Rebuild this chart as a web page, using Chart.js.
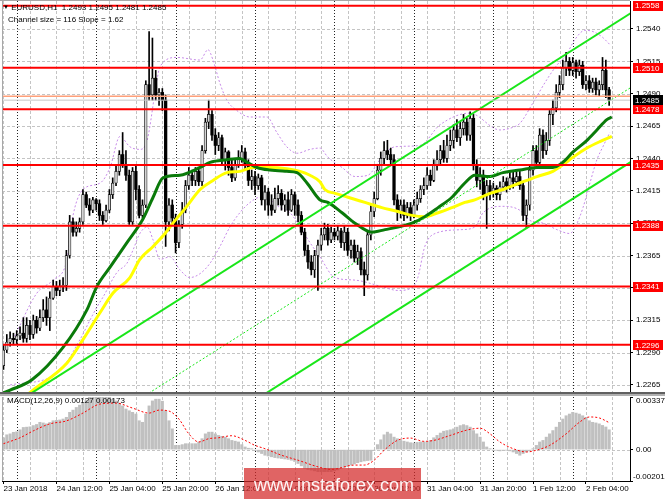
<!DOCTYPE html>
<html>
<head>
<meta charset="utf-8">
<script src="https://cdn.jsdelivr.net/npm/chart.js@4.4.1/dist/chart.umd.min.js"></script>
<style>
html, body { margin:0; padding:0; background:#fff; }
#wrap { position:relative; width:665px; height:499px; overflow:hidden; background:#fff; font-family:"Liberation Sans", Arial, sans-serif; }
#c1 { position:absolute; left:0; top:0; }
#c2 { position:absolute; left:0; top:394px; }
.t { position:absolute; font-size:8px; line-height:10px; color:#000; white-space:nowrap; }
#wm { position:absolute; left:244px; top:468px; width:177px; height:31px; background:rgba(212,40,40,0.72); color:rgba(255,255,255,0.95); font-size:18px; line-height:34px; padding-left:10px; box-sizing:border-box; white-space:nowrap; }
</style>
</head>
<body>
<div id="wrap">
<canvas id="c1" width="665" height="394"></canvas>
<canvas id="c2" width="665" height="105"></canvas>
<div class="t" style="left:3px;top:2px;"><span style="font-size:6px;vertical-align:1px">&#9660;</span> EURUSD,H1&nbsp; 1.2493 1.2495 1.2481 1.2485</div>
<div class="t" style="left:8px;top:15px;">Channel size = 116 Slope = 1.62</div>
<div class="t" style="left:7px;top:396px;">MACD(12,26,9) 0.00127 0.00173</div>
<div id="wm">www.instaforex.com</div>
</div>
<script>
// ---------- DATA ----------
const timeLabels = ['23 Jan 2018','24 Jan 12:00','25 Jan 04:00','25 Jan 20:00','26 Jan 12:00','29 Jan 04:00','29 Jan 20:00','30 Jan 12:00','31 Jan 04:00','31 Jan 20:00','1 Feb 12:00','2 Feb 04:00'];
const labelBars = [0,16,32,48,64,80,96,112,128,144,160,176];
const gridBars = [0,8,16,24,32,40,48,56,64,72,80,88,96,104,112,120,128,136,144,152,160,168,176,184];
const dayBars = [4,28,52,76,100,124,148,172];
const priceTicks = [1.2265,1.2290,1.2315,1.2340,1.2365,1.2390,1.2415,1.2440,1.2465,1.2490,1.2515,1.2540];
const levels = [1.2558,1.2510,1.2478,1.2435,1.2388,1.2341,1.2296];
const pivotLevel = 1.2488;
const bidPrice = 1.2485;

const opens = [
1.2280,1.2292,1.2298,1.2301,1.2300,1.2303,1.2305,1.2301,1.2311,1.2304,
1.2315,1.2309,1.2317,1.2323,1.2317,1.2332,1.2341,1.2338,1.2341,1.2342,
1.2365,1.2391,1.2383,1.2386,1.2391,1.2412,1.2404,1.2400,1.2408,1.2405,
1.2396,1.2392,1.2400,1.2412,1.2421,1.2430,1.2443,1.2435,1.2427,1.2391,
1.2430,1.2416,1.2396,1.2404,1.2497,1.2489,1.2502,1.2489,1.2491,1.2485,
1.2391,1.2404,1.2394,1.2375,1.2389,1.2400,1.2419,1.2427,1.2423,1.2430,
1.2422,1.2446,1.2468,1.2474,1.2458,1.2450,1.2456,1.2439,1.2445,1.2433,
1.2425,1.2435,1.2440,1.2445,1.2435,1.2423,1.2426,1.2419,1.2425,1.2408,
1.2414,1.2404,1.2400,1.2409,1.2413,1.2404,1.2408,1.2400,1.2412,1.2404,
1.2396,1.2383,1.2369,1.2360,1.2354,1.2365,1.2373,1.2381,1.2386,1.2377,
1.2383,1.2380,1.2384,1.2375,1.2383,1.2369,1.2373,1.2363,1.2368,1.2354,
1.2350,1.2381,1.2399,1.2409,1.2431,1.2440,1.2446,1.2443,1.2439,1.2408,
1.2399,1.2404,1.2396,1.2402,1.2396,1.2404,1.2409,1.2416,1.2419,1.2427,
1.2423,1.2435,1.2439,1.2446,1.2440,1.2450,1.2454,1.2462,1.2456,1.2463,
1.2468,1.2458,1.2471,1.2435,1.2423,1.2427,1.2412,1.2419,1.2414,1.2417,
1.2412,1.2418,1.2422,1.2419,1.2425,1.2422,1.2426,1.2419,1.2396,1.2404,
1.2431,1.2446,1.2437,1.2458,1.2446,1.2454,1.2474,1.2479,1.2491,1.2497,
1.2510,1.2515,1.2508,1.2514,1.2507,1.2512,1.2497,1.2500,1.2494,1.2499,
1.2493,1.2497,1.2508,1.2493];
const highs = [
1.2296,1.2304,1.2306,1.2305,1.2307,1.2310,1.2317,1.2317,1.2315,1.2319,
1.2318,1.2323,1.2331,1.2333,1.2337,1.2346,1.2345,1.2346,1.2348,1.2369,
1.2396,1.2394,1.2391,1.2394,1.2416,1.2414,1.2409,1.2410,1.2409,1.2408,
1.2399,1.2404,1.2416,1.2425,1.2435,1.2446,1.2460,1.2446,1.2431,1.2433,
1.2435,1.2419,1.2408,1.2500,1.2538,1.2533,1.2508,1.2494,1.2494,1.2489,
1.2409,1.2408,1.2397,1.2392,1.2406,1.2423,1.2433,1.2431,1.2433,1.2433,
1.2450,1.2471,1.2485,1.2477,1.2463,1.2460,1.2458,1.2448,1.2446,1.2439,
1.2439,1.2446,1.2450,1.2448,1.2439,1.2431,1.2430,1.2428,1.2427,1.2419,
1.2417,1.2412,1.2417,1.2419,1.2416,1.2412,1.2414,1.2416,1.2414,1.2408,
1.2399,1.2386,1.2373,1.2365,1.2369,1.2377,1.2386,1.2390,1.2389,1.2387,
1.2386,1.2388,1.2386,1.2388,1.2386,1.2377,1.2377,1.2373,1.2371,1.2360,
1.2384,1.2404,1.2414,1.2435,1.2445,1.2453,1.2454,1.2448,1.2443,1.2412,
1.2408,1.2408,1.2406,1.2406,1.2408,1.2414,1.2419,1.2425,1.2433,1.2431,
1.2439,1.2446,1.2450,1.2454,1.2458,1.2462,1.2466,1.2470,1.2468,1.2474,
1.2471,1.2476,1.2474,1.2439,1.2433,1.2431,1.2423,1.2423,1.2421,1.2419,
1.2422,1.2426,1.2425,1.2430,1.2430,1.2431,1.2430,1.2422,1.2408,1.2435,
1.2450,1.2450,1.2463,1.2462,1.2460,1.2477,1.2485,1.2497,1.2504,1.2516,
1.2522,1.2518,1.2518,1.2516,1.2516,1.2515,1.2504,1.2504,1.2502,1.2502,
1.2500,1.2518,1.2516,1.2495];
const lows = [
1.2277,1.2290,1.2295,1.2296,1.2297,1.2300,1.2298,1.2298,1.2300,1.2301,
1.2305,1.2307,1.2314,1.2311,1.2307,1.2331,1.2334,1.2334,1.2337,1.2338,
1.2363,1.2380,1.2380,1.2383,1.2389,1.2402,1.2396,1.2398,1.2400,1.2392,
1.2389,1.2391,1.2398,1.2409,1.2419,1.2427,1.2433,1.2423,1.2389,1.2389,
1.2408,1.2394,1.2394,1.2402,1.2485,1.2485,1.2485,1.2481,1.2477,1.2372,
1.2384,1.2389,1.2367,1.2371,1.2386,1.2398,1.2416,1.2419,1.2419,1.2419,
1.2419,1.2444,1.2463,1.2454,1.2443,1.2446,1.2435,1.2431,1.2427,1.2422,
1.2423,1.2433,1.2437,1.2431,1.2419,1.2416,1.2412,1.2416,1.2404,1.2400,
1.2396,1.2396,1.2398,1.2404,1.2400,1.2399,1.2396,1.2399,1.2396,1.2391,
1.2381,1.2365,1.2355,1.2350,1.2348,1.2338,1.2369,1.2377,1.2373,1.2375,
1.2377,1.2377,1.2371,1.2369,1.2365,1.2363,1.2360,1.2358,1.2350,1.2334,
1.2346,1.2377,1.2395,1.2408,1.2427,1.2435,1.2439,1.2435,1.2404,1.2392,
1.2394,1.2392,1.2394,1.2392,1.2394,1.2400,1.2406,1.2412,1.2416,1.2419,
1.2422,1.2431,1.2435,1.2437,1.2437,1.2446,1.2448,1.2453,1.2450,1.2458,
1.2454,1.2454,1.2431,1.2418,1.2416,1.2408,1.2386,1.2408,1.2410,1.2408,
1.2408,1.2416,1.2414,1.2416,1.2417,1.2419,1.2416,1.2392,1.2386,1.2400,
1.2427,1.2433,1.2435,1.2440,1.2443,1.2450,1.2466,1.2476,1.2487,1.2493,
1.2504,1.2504,1.2504,1.2502,1.2504,1.2494,1.2493,1.2491,1.2491,1.2489,
1.2488,1.2493,1.2487,1.2481];
const closes = [
1.2292,1.2298,1.2301,1.2300,1.2303,1.2305,1.2301,1.2311,1.2304,1.2315,
1.2309,1.2317,1.2323,1.2317,1.2332,1.2341,1.2338,1.2341,1.2342,1.2365,
1.2391,1.2383,1.2386,1.2391,1.2412,1.2404,1.2400,1.2408,1.2405,1.2396,
1.2392,1.2400,1.2412,1.2421,1.2430,1.2443,1.2435,1.2427,1.2391,1.2430,
1.2416,1.2396,1.2404,1.2497,1.2489,1.2502,1.2489,1.2491,1.2485,1.2391,
1.2404,1.2394,1.2375,1.2389,1.2400,1.2419,1.2427,1.2423,1.2430,1.2422,
1.2446,1.2468,1.2474,1.2458,1.2450,1.2456,1.2439,1.2445,1.2433,1.2425,
1.2435,1.2440,1.2445,1.2435,1.2423,1.2426,1.2419,1.2425,1.2408,1.2414,
1.2404,1.2400,1.2409,1.2413,1.2404,1.2408,1.2400,1.2412,1.2404,1.2396,
1.2383,1.2369,1.2360,1.2354,1.2365,1.2373,1.2381,1.2386,1.2377,1.2383,
1.2380,1.2384,1.2375,1.2383,1.2369,1.2373,1.2363,1.2368,1.2354,1.2350,
1.2381,1.2399,1.2409,1.2431,1.2440,1.2446,1.2443,1.2439,1.2408,1.2399,
1.2404,1.2396,1.2402,1.2396,1.2404,1.2409,1.2416,1.2419,1.2427,1.2423,
1.2435,1.2439,1.2446,1.2440,1.2450,1.2454,1.2462,1.2456,1.2463,1.2468,
1.2458,1.2471,1.2435,1.2423,1.2427,1.2412,1.2419,1.2414,1.2417,1.2412,
1.2418,1.2422,1.2419,1.2425,1.2422,1.2426,1.2419,1.2396,1.2404,1.2431,
1.2446,1.2437,1.2458,1.2446,1.2454,1.2474,1.2479,1.2491,1.2497,1.2510,
1.2515,1.2508,1.2514,1.2507,1.2512,1.2497,1.2500,1.2494,1.2499,1.2493,
1.2497,1.2508,1.2493,1.2485];

// regression channel (bar index, price)
const channelBars = [0, 190];
const channelUpper = [1.2245, 1.2553];
const channelMid = [1.21875, 1.24955];
const channelLower = [1.2130, 1.2438];

// moving averages
const maGreenBars = [0,2,8.6,18,25.2,28.2,32.2,37.3,42.1,45.2,48.2,53.3,59.4,62.4,67.5,71.4,73.6,76.6,80.5,85.6,88.7,91.7,95.6,98,102.3,106.2,111.3,115.3,119.2,123.4,127.3,131.3,135.5,139.4,142.4,147,150.9,156,161.2,166,169,172.1,176.3,179.3,182.3,183.8];
const maGreen = [1.2259,1.2261,1.2269,1.2294,1.2323,1.2341,1.2356,1.2375,1.2393,1.2410,1.2425,1.2427,1.2433,1.2437,1.2439,1.2440,1.2437,1.2433,1.2431,1.2430,1.2429,1.2421,1.2408,1.2406,1.2398,1.2390,1.2383,1.2385,1.2387,1.2390,1.2395,1.2402,1.2410,1.2421,1.2427,1.2426,1.2429,1.2431,1.2433,1.2433,1.2437,1.2445,1.2454,1.2462,1.2470,1.2472];
const maYellowBars = [6,8.9,19.2,24,29.2,33.1,38.2,41.2,45.2,48.8,51.2,55.4,59.4,63.3,67.5,71.5,75.4,80.5,85.6,89.6,92.6,95.6,97.1,100.2,104.1,109.2,114.3,119.2,123.4,127.3,131.3,135.5,139.4,142.4,147,150.9,156,161.2,166,169,172.1,176.3,180.2,183.8];
const maYellow = [1.2255,1.2261,1.2282,1.2300,1.2321,1.2336,1.2348,1.2362,1.2372,1.2382,1.2390,1.2403,1.2416,1.2423,1.2429,1.2430,1.2433,1.2433,1.2432,1.2430,1.2427,1.2422,1.2416,1.2413,1.2410,1.2406,1.2402,1.2399,1.2396,1.2395,1.2398,1.2402,1.2406,1.2408,1.2413,1.2416,1.2421,1.2426,1.2430,1.2435,1.2441,1.2448,1.2453,1.2457];

// envelope bands
const bandUpperBars = [2.9,10.1,15,19.2,20.7,24,29.2,32.2,35.2,38.2,41.2,43.4,46.4,47.3,52.4,59.4,61.8,63.3,65.4,67.5,70.5,74.5,79.6,82.6,85.6,88.7,92.6,95.6,98,102.3,106.2,110.1,114.3,118.3,125.8,131.9,140.9,150,153.9,156,160,164.2,167.2,170,172.7,175.7,178.1,180.8,183.2];
const bandUpper = [1.2300,1.2336,1.2346,1.2362,1.2392,1.2416,1.2421,1.2433,1.2457,1.2449,1.2447,1.2454,1.2501,1.2511,1.2518,1.2516,1.2524,1.2516,1.2498,1.2485,1.2477,1.2472,1.2472,1.2460,1.2449,1.2444,1.2447,1.2448,1.2441,1.2433,1.2426,1.2427,1.2441,1.2449,1.2450,1.2466,1.2475,1.2462,1.2464,1.2467,1.2483,1.2501,1.2512,1.2520,1.2532,1.2539,1.2538,1.2534,1.2528];
const bandLowerBars = [2,16.2,23.1,26.1,28.2,30.1,34.3,37.3,39.1,41.2,43.4,45.2,47.3,50.3,53.3,56.3,59.4,62.4,65.4,68.4,71.4,74.5,77.5,80.5,83.5,86.6,89.6,92.6,95.6,100.1,106.2,114.3,119.2,123.4,125.2,127.3,130.4,138.5,142.4,144.9,150.9,156,159.1,163,167.2,171.1,173.3,175.1,177.2,179.3,181.1,183.2];
const bandLower = [1.2265,1.2274,1.2300,1.2315,1.2325,1.2333,1.2352,1.2359,1.2369,1.2382,1.2387,1.2377,1.2362,1.2364,1.2354,1.2348,1.2351,1.2359,1.2372,1.2387,1.2398,1.2406,1.2410,1.2408,1.2402,1.2398,1.2387,1.2375,1.2364,1.2348,1.2346,1.2341,1.2338,1.2340,1.2348,1.2372,1.2382,1.2385,1.2387,1.2398,1.2403,1.2400,1.2392,1.2390,1.2385,1.2382,1.2390,1.2402,1.2421,1.2439,1.2449,1.2460];

// MACD
const macdHist = [
0.00076,0.00095,0.00101,0.00111,0.00114,0.00127,0.00142,0.00144,0.00146,0.00154,
0.00161,0.00175,0.00171,0.00165,0.00174,0.00185,0.00187,0.00190,0.00196,0.00207,
0.00239,0.00253,0.00270,0.00285,0.00302,0.00317,0.00335,0.00337,0.00337,0.00337,
0.00335,0.00335,0.00335,0.00323,0.00312,0.00298,0.00280,0.00260,0.00249,0.00239,
0.00228,0.00185,0.00175,0.00228,0.00280,0.00312,0.00323,0.00323,0.00310,0.00249,
0.00185,0.00133,0.00027,0.00027,0.00032,0.00038,0.00038,0.00038,0.00038,0.00049,
0.00070,0.00101,0.00112,0.00112,0.00101,0.00091,0.00085,0.00080,0.00070,0.00059,
0.00054,0.00049,0.00032,0.00017,0.00009,0.00006,-0.00006,-0.00015,-0.00025,-0.00036,
-0.00041,-0.00046,-0.00051,-0.00054,-0.00057,-0.00060,-0.00063,-0.00068,-0.00076,-0.00089,
-0.00104,-0.00120,-0.00127,-0.00131,-0.00136,-0.00141,-0.00141,-0.00141,-0.00141,-0.00141,
-0.00136,-0.00130,-0.00120,-0.00114,-0.00108,-0.00099,-0.00092,-0.00084,-0.00078,-0.00073,
-0.00070,-0.00068,-0.00004,0.00032,0.00063,0.00095,0.00112,0.00101,0.00080,0.00070,
0.00059,0.00054,0.00049,0.00044,0.00042,0.00046,0.00049,0.00049,0.00051,0.00059,
0.00076,0.00091,0.00106,0.00118,0.00122,0.00127,0.00133,0.00144,0.00154,0.00160,
0.00154,0.00144,0.00122,0.00101,0.00080,0.00049,0.00017,0.00006,-0.00004,-0.00004,
-0.00008,-0.00004,-0.00004,-0.00008,-0.00015,-0.00025,-0.00036,-0.00025,-0.00015,-0.00008,
0.00006,0.00027,0.00049,0.00059,0.00080,0.00101,0.00122,0.00144,0.00175,0.00196,
0.00217,0.00228,0.00239,0.00234,0.00228,0.00217,0.00207,0.00185,0.00175,0.00171,
0.00165,0.00155,0.00145,0.00127];
const macdSignalBars = [0,5,9,14,19,24,29,34,39,44,47,50,53,56,59,62,65,69,73,76,79,84,89,95,99,106,109,112,115,119,123,127,130,135,140,144,147,150,154,158,161,165,170,174,177,180,183];
const macdSignal = [0.00038,0.00076,0.00120,0.00165,0.00184,0.00234,0.00291,0.00298,0.00266,0.00234,0.00253,0.00247,0.00196,0.00101,0.00049,0.00070,0.00076,0.00089,0.00059,0.00027,0.00006,-0.00036,-0.00068,-0.00110,-0.00127,-0.00099,-0.00099,-0.00068,-0.00004,0.00059,0.00074,0.00053,0.00059,0.00091,0.00125,0.00137,0.00101,0.00049,0.00006,-0.00015,-0.00004,0.00027,0.00101,0.00175,0.00209,0.00203,0.00173];
const macdTicks = [0.00337, 0, -0.00201];

// ---------- RENDER ----------
const FONT = "'Liberation Sans', Arial, sans-serif";
Chart.defaults.font.family = FONT;
Chart.defaults.font.size = 8;
Chart.defaults.color = '#000';

const X_MIN = -0.45, X_MAX = 189.3;
const pts = (xs, ys) => xs.map((x, i) => ({x: x, y: ys[i]}));

function lineDs(data, color, width, dash, order, tension) {
  return {type: 'line', data: data, borderColor: color, borderWidth: width, borderDash: dash || [],
    pointRadius: 0, pointHoverRadius: 0, fill: false, tension: tension || 0,
    cubicInterpolationMode: tension ? 'monotone' : 'default', order: order};
}

function makeGrid(hValues) {
  return {
    id: 'mtGrid',
    beforeDatasetsDraw(chart) {
      const {ctx, chartArea: a, scales} = chart;
      const x = scales.x, y = scales.y;
      ctx.save();
      ctx.beginPath(); ctx.rect(a.left, a.top, a.right - a.left, a.bottom - a.top); ctx.clip();
      ctx.lineWidth = 1;
      ctx.strokeStyle = '#c4c4c4';
      ctx.setLineDash([3, 2]);
      gridBars.forEach(b => {
        const px = Math.round(x.getPixelForValue(b)) + 0.5;
        ctx.beginPath(); ctx.moveTo(px, a.top); ctx.lineTo(px, a.bottom); ctx.stroke();
      });
      hValues.forEach(v => {
        const py = Math.round(y.getPixelForValue(v)) + 0.5;
        ctx.beginPath(); ctx.moveTo(a.left, py); ctx.lineTo(a.right, py); ctx.stroke();
      });
      ctx.strokeStyle = '#222';
      ctx.setLineDash([1, 2]);
      dayBars.forEach(b => {
        const px = Math.round(x.getPixelForValue(b)) + 0.5;
        ctx.beginPath(); ctx.moveTo(px, a.top); ctx.lineTo(px, a.bottom); ctx.stroke();
      });
      ctx.restore();
    }
  };
}

function drawBox(ctx, yPix, text, bg) {
  const h = 10;
  ctx.fillStyle = bg;
  ctx.fillRect(633, Math.round(yPix - h / 2), 30, h);
  ctx.fillStyle = '#fff';
  ctx.textAlign = 'left'; ctx.textBaseline = 'middle';
  ctx.font = "8px " + FONT;
  ctx.fillText(text, 635, yPix + 0.5);
}

const mainDecor = {
  id: 'mainDecor',
  afterDraw(chart) {
    const {ctx, chartArea: a, scales} = chart;
    const y = scales.y;
    ctx.save();
    levels.forEach(l => drawBox(ctx, y.getPixelForValue(l), l.toFixed(4), '#ff0000'));
    drawBox(ctx, y.getPixelForValue(bidPrice), bidPrice.toFixed(4), '#000');
    ctx.fillStyle = '#a8a8a8';
    ctx.fillRect(2, 0, 1, a.bottom);
    ctx.fillRect(0, 0, a.right, 1);
    ctx.fillStyle = '#606060';
    ctx.fillRect(0, 392, 665, 2);
    ctx.restore();
  }
};

const macdDecor = {
  id: 'macdDecor',
  afterDraw(chart) {
    const {ctx, chartArea: a, scales} = chart;
    const y = scales.y;
    ctx.save();
    ctx.font = "8px " + FONT;
    ctx.fillStyle = '#000';
    ctx.textAlign = 'left'; ctx.textBaseline = 'middle';
    const offs = [4, 0, -4];
    const xs = [a.right + 6, a.right + 6, a.right + 3];
    macdTicks.forEach((v, i) => {
      const txt = v === 0 ? '0.00' : v.toFixed(5);
      ctx.fillText(txt, xs[i], y.getPixelForValue(v) + offs[i]);
    });
    ctx.fillStyle = '#b0b0b0';
    ctx.fillRect(0, 0, 665, 2);
    ctx.fillStyle = '#a8a8a8';
    ctx.fillRect(2, a.top, 1, a.bottom - a.top);
    ctx.restore();
  }
};

const noVPad = s => { s.width = 35; s.paddingTop = 0; s.paddingBottom = 0; };

const candleColor = ctx => closes[ctx.dataIndex] > opens[ctx.dataIndex] ? '#d4d4d4' : '#000';
const candleBorder = ctx => closes[ctx.dataIndex] > opens[ctx.dataIndex] ? 0.7 : 0;

const mainDatasets = [];
levels.forEach(l => mainDatasets.push(lineDs([{x: X_MIN, y: l}, {x: X_MAX, y: l}], '#ff0000', 2, [], 0)));
mainDatasets.push(lineDs([{x: X_MIN, y: pivotLevel}, {x: X_MAX, y: pivotLevel}], '#ffa07a', 1.5, [], 1));
mainDatasets.push(lineDs([{x: X_MIN, y: bidPrice}, {x: X_MAX, y: bidPrice}], '#c8c8c8', 1, [], 1));
mainDatasets.push(lineDs(pts(channelBars, channelUpper), '#19e619', 2, [], 2));
mainDatasets.push(lineDs(pts(channelBars, channelLower), '#19e619', 2, [], 2));
mainDatasets.push(lineDs(pts(channelBars, channelMid), '#19e619', 1, [2, 2], 2));
mainDatasets.push(lineDs(pts(maGreenBars, maGreen), '#0a7a0a', 3, [], 3, 0.4));
mainDatasets.push(lineDs(pts(maYellowBars, maYellow), '#ffff00', 3, [], 3, 0.4));
mainDatasets.push({type: 'bar', data: opens.map((o, i) => ({x: i, y: [o, closes[i]]})),
  backgroundColor: candleColor, borderColor: '#000', borderWidth: candleBorder, borderSkipped: false,
  barThickness: 2.6, grouped: false, minBarLength: 1, order: 4});
mainDatasets.push({type: 'bar', data: opens.map((o, i) => ({x: i, y: [lows[i], highs[i]]})),
  backgroundColor: '#000', barThickness: 1, grouped: false, order: 5});
mainDatasets.push(lineDs(pts(bandUpperBars, bandUpper), '#c68ae8', 1, [2, 2], 6, 0.4));
mainDatasets.push(lineDs(pts(bandLowerBars, bandLower), '#c68ae8', 1, [2, 2], 6, 0.4));

new Chart(document.getElementById('c1'), {
  type: 'bar',
  data: {datasets: mainDatasets},
  options: {
    responsive: false, animation: false, events: [],
    layout: {padding: {left: 2, top: 1, bottom: 1, right: 0}},
    plugins: {legend: {display: false}, tooltip: {enabled: false}},
    scales: {
      x: {type: 'linear', min: X_MIN, max: X_MAX, display: false, offset: false, grid: {offset: false}},
      y: {type: 'linear', position: 'right', min: 1.22588, max: 1.25616, beginAtZero: false,
        afterBuildTicks: s => { s.ticks = priceTicks.map(v => ({value: v})); },
        afterFit: noVPad,
        ticks: {callback: v => Number(v).toFixed(4), autoSkip: false, padding: 3, color: '#000', font: {size: 8}},
        grid: {drawOnChartArea: false, drawTicks: true, tickLength: 3, color: '#000'},
        border: {display: true, color: '#000', width: 1}}
    }
  },
  plugins: [makeGrid(priceTicks), mainDecor]
});

new Chart(document.getElementById('c2'), {
  type: 'bar',
  data: {datasets: [
    lineDs(pts(macdSignalBars, macdSignal), '#ff0000', 1, [2, 2], 1, 0.4),
    {type: 'bar', data: macdHist.map((v, i) => ({x: i, y: v})), backgroundColor: '#c0c0c0',
      barThickness: 2.4, grouped: false, order: 2}
  ]},
  options: {
    responsive: false, animation: false, events: [],
    layout: {padding: {left: 2, top: 3, bottom: 0, right: 0}},
    plugins: {legend: {display: false}, tooltip: {enabled: false}},
    scales: {
      x: {type: 'linear', min: X_MIN, max: X_MAX, offset: false,
        afterBuildTicks: s => { s.ticks = labelBars.map(v => ({value: v})); },
        afterFit: s => { s.height = 18; s.paddingLeft = 0; s.paddingRight = 0; },
        ticks: {callback: (v, i) => timeLabels[i], align: 'start', autoSkip: false, maxRotation: 0, padding: 0, color: '#000', font: {size: 8}},
        grid: {drawOnChartArea: false, drawTicks: true, tickLength: 3, color: '#000', offset: false},
        border: {display: true, color: '#000', width: 1}},
      y: {type: 'linear', position: 'right', min: -0.00201, max: 0.00337, beginAtZero: false,
        afterBuildTicks: s => { s.ticks = macdTicks.map(v => ({value: v})); },
        afterFit: noVPad,
        ticks: {display: false},
        grid: {drawOnChartArea: false, drawTicks: true, tickLength: 3, color: '#000'},
        border: {display: true, color: '#000', width: 1}}
    }
  },
  plugins: [makeGrid([0]), macdDecor]
});
</script>
</body>
</html>
